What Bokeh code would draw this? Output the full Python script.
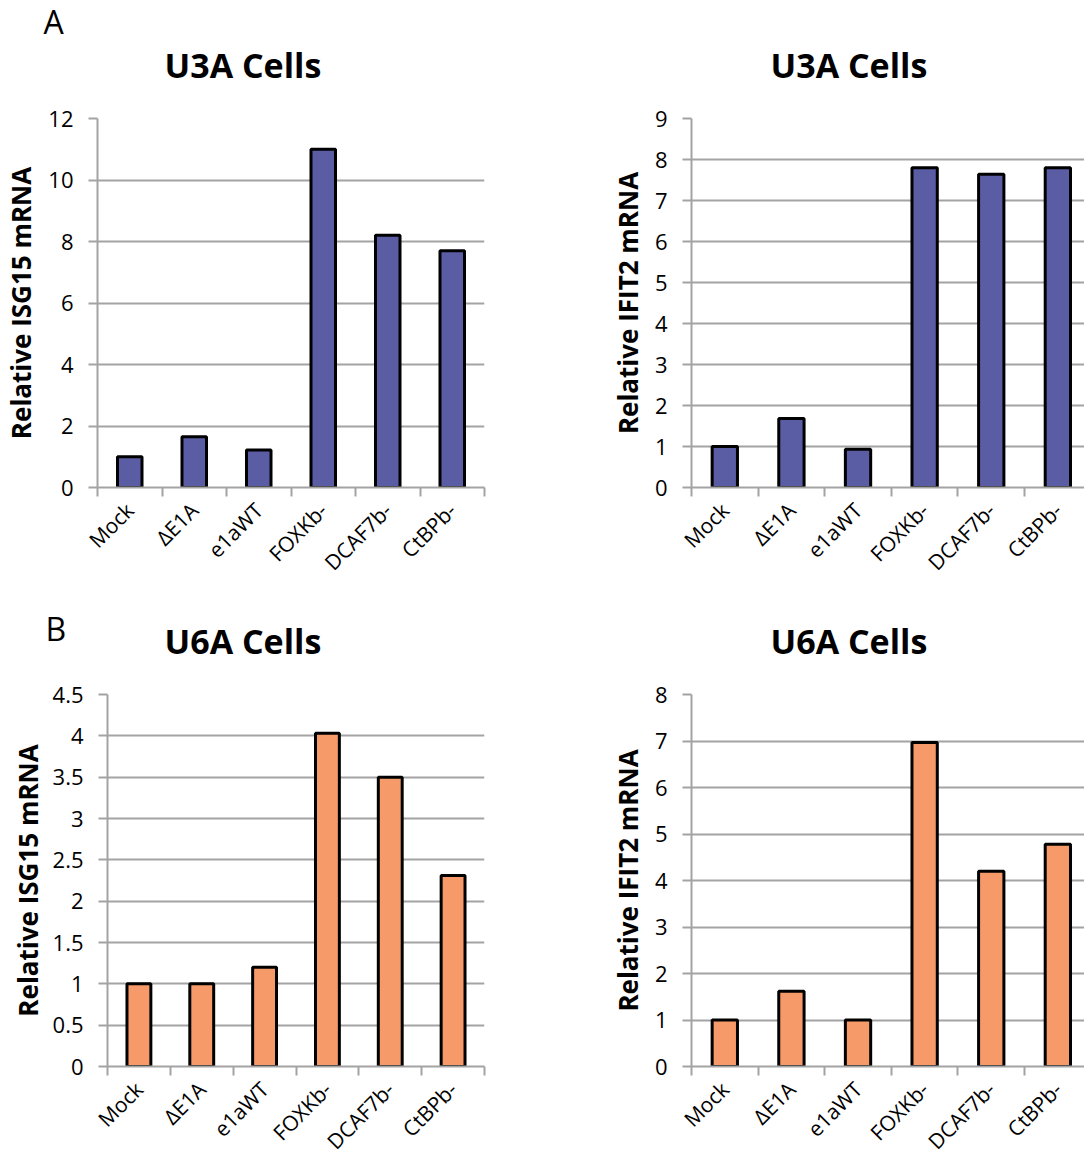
import math
from bokeh.plotting import figure
from bokeh.layouts import column, row
from bokeh.models import FixedTicker, Title, Range1d
from bokeh.embed import file_html
from bokeh.resources import INLINE

categories = ["Mock", "\u0394E1A", "e1aWT", "FOXKb-", "DCAF7b-", "CtBPb-"]

u3a_isg15 = [1.0, 1.65, 1.22, 11.0, 8.2, 7.7]
u3a_ifit2 = [1.0, 1.68, 0.93, 7.8, 7.64, 7.8]
u6a_isg15 = [1.0, 1.0, 1.2, 4.03, 3.5, 2.31]
u6a_ifit2 = [1.0, 1.62, 1.0, 6.97, 4.2, 4.78]

ticks_u3a_isg15 = [0, 2, 4, 6, 8, 10, 12]
ticks_u3a_ifit2 = [0, 1, 2, 3, 4, 5, 6, 7, 8, 9]
ticks_u6a_isg15 = [0, 0.5, 1, 1.5, 2, 2.5, 3, 3.5, 4, 4.5]
labels_u6a_isg15 = ["0", "0.5", "1", "1.5", "2", "2.5", "3", "3.5", "4", "4.5"]
ticks_u6a_ifit2 = [0, 1, 2, 3, 4, 5, 6, 7, 8]

BLUE = "#5a5ca4"
ORANGE = "#f79a69"
GRID = "#a3a3a3"
FONT = "Open Sans"


def panel(values, yticks, ylabels, color, title, letter, ylab,
          width, height, bl, br, bt, bb, xend, std_axis, title_off, letter_cfg):
    p = figure(width=width, height=height, output_backend="svg",
               toolbar_location=None, x_range=Range1d(0, xend),
               y_range=Range1d(yticks[0], yticks[-1]),
               min_border_left=bl, min_border_right=br,
               min_border_top=bt, min_border_bottom=bb)
    p.outline_line_color = None
    p.background_fill_color = "white"
    p.border_fill_color = "white"
    centers = [i + 0.5 for i in range(len(categories))]
    p.vbar(x=centers, top=values, width=0.38, fill_color=color,
           line_color="black", line_width=3)
    # y axis
    p.yaxis.ticker = FixedTicker(ticks=yticks)
    if ylabels is not None:
        p.yaxis.major_label_overrides = {t: l for t, l in zip(yticks, ylabels)}
    p.yaxis.axis_line_color = GRID
    p.yaxis.axis_line_width = 2
    p.yaxis.major_tick_line_color = GRID
    p.yaxis.major_tick_line_width = 2
    p.yaxis.major_tick_out = 9
    p.yaxis.major_tick_in = 0
    p.yaxis.minor_tick_line_color = None
    p.yaxis.major_label_text_font = FONT
    p.yaxis.major_label_text_font_size = "22px"
    p.yaxis.major_label_text_color = "black"
    p.yaxis.major_label_standoff = 15
    p.yaxis.axis_label = ylab
    p.yaxis.axis_label_text_font = FONT
    p.yaxis.axis_label_text_font_style = "bold"
    p.yaxis.axis_label_text_font_size = "26px"
    p.yaxis.axis_label_text_color = "black"
    p.yaxis.axis_label_standoff = std_axis
    # x axis
    p.xaxis.ticker = FixedTicker(ticks=centers, minor_ticks=list(range(len(categories) + 1)))
    p.xaxis.major_label_overrides = {c: n for c, n in zip(centers, categories)}
    p.xaxis.major_label_orientation = math.pi / 4
    p.xaxis.axis_line_color = GRID
    p.xaxis.axis_line_width = 2
    p.xaxis.major_tick_line_color = None
    p.xaxis.major_tick_out = 0
    p.xaxis.major_tick_in = 0
    p.xaxis.minor_tick_line_color = GRID
    p.xaxis.minor_tick_line_width = 2
    p.xaxis.minor_tick_out = 9
    p.xaxis.minor_tick_in = 0
    p.xaxis.major_label_text_font = FONT
    p.xaxis.major_label_text_font_size = "21px"
    p.xaxis.major_label_text_color = "black"
    p.xaxis.major_label_standoff = 10
    # grid
    p.xgrid.grid_line_color = None
    p.ygrid.grid_line_color = GRID
    p.ygrid.grid_line_width = 2
    p.ygrid.ticker = FixedTicker(ticks=yticks)
    # chart title (inner, next to the plot area)
    main = Title(text=title, text_font=FONT, text_font_style="bold",
                 text_font_size="34px", text_color="black", align="left",
                 offset=title_off, vertical_align="top", standoff=58)
    p.add_layout(main, "above")
    # panel letter (outer title, pulled down over the chart title band)
    if letter:
        p.title.text = letter
        p.title.text_font = FONT
        p.title.text_font_style = "normal"
        p.title.text_font_size = "32px"
        p.title.text_color = "black"
        p.title.align = "left"
        p.title.vertical_align = "bottom"
        p.title.offset = letter_cfg[0]
        p.title.standoff = letter_cfg[1]
    else:
        p.title.visible = False
    return p


p1 = panel(u3a_isg15, ticks_u3a_isg15, None, BLUE, "U3A Cells", "A",
           "Relative ISG15 mRNA", 548, 588, 97, 64, 118, 101, 6, 6, 67, (-54, -61))
p2 = panel(u3a_ifit2, ticks_u3a_ifit2, None, BLUE, "U3A Cells", None,
           "Relative IFIT2 mRNA", 536, 588, 143, 0, 118, 101, 5.9, 6, 79, None)
p3 = panel(u6a_isg15, ticks_u6a_isg15, labels_u6a_isg15, ORANGE, "U6A Cells", "B",
           "Relative ISG15 mRNA", 548, 579, 107, 64, 106, 101, 6, 4, 57, (-62, -123))
p4 = panel(u6a_ifit2, ticks_u6a_ifit2, None, ORANGE, "U6A Cells", None,
           "Relative IFIT2 mRNA", 536, 579, 143, 0, 106, 101, 5.9, 6, 79, None)

layout = column(row(p1, p2), row(p3, p4))
open("out.html", "w").write(file_html(layout, INLINE))
